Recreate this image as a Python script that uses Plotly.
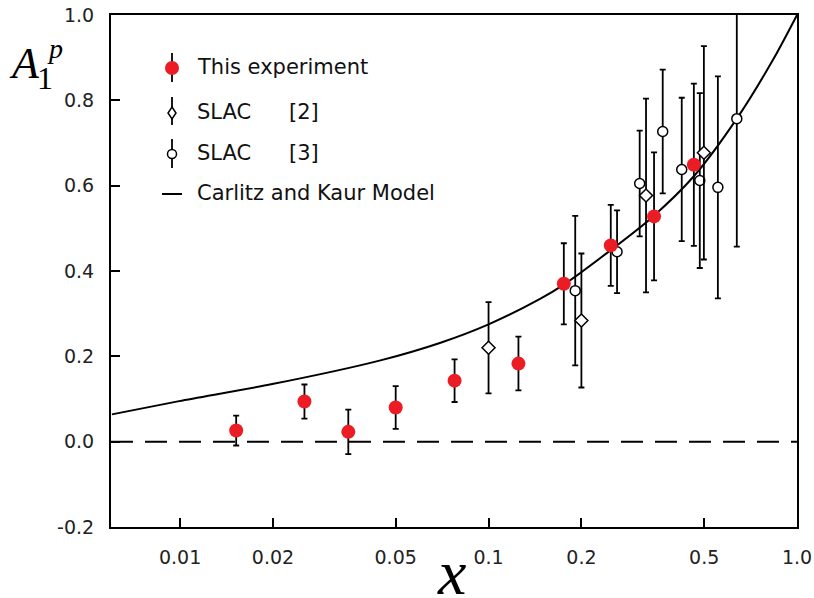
import plotly.graph_objects as go

# This experiment (red points)
x_exp = [0.0152, 0.0253, 0.0351, 0.050, 0.0776, 0.125, 0.1754, 0.249, 0.344, 0.463]
y_exp = [0.026, 0.094, 0.023, 0.080, 0.143, 0.183, 0.370, 0.460, 0.528, 0.649]
e_exp = [0.035, 0.040, 0.052, 0.050, 0.050, 0.063, 0.095, 0.095, 0.150, 0.190]

# SLAC [2] (open diamonds)
x_slac2 = [0.100, 0.200, 0.324, 0.499]
y_slac2 = [0.220, 0.284, 0.577, 0.677]
e_slac2 = [0.107, 0.157, 0.227, 0.250]

# SLAC [3] (open circles)
x_slac3 = [0.191, 0.261, 0.309, 0.367, 0.423, 0.484, 0.554, 0.638]
y_slac3 = [0.354, 0.445, 0.605, 0.727, 0.638, 0.612, 0.596, 0.757]
e_slac3 = [0.175, 0.097, 0.124, 0.145, 0.168, 0.205, 0.260, 0.300]

# Carlitz and Kaur model curve
x_model = [0.00601, 0.00993, 0.0199, 0.0443, 0.0699, 0.100, 0.1464,
           0.1754, 0.249, 0.338, 0.463, 0.638, 0.836, 1.0]
y_model = [0.064, 0.095, 0.135, 0.190, 0.232, 0.275, 0.334,
           0.368, 0.449, 0.525, 0.622, 0.757, 0.895, 1.0]

x_ticks = [0.01, 0.02, 0.05, 0.1, 0.2, 0.5, 1.0]
x_ticktext = ['0.01', '0.02', '0.05', '0.1', '0.2', '0.5', '1.0']
y_ticks = [-0.2, 0.0, 0.2, 0.4, 0.6, 0.8, 1.0]
y_ticktext = ['-0.2', '0.0', '0.2', '0.4', '0.6', '0.8', '1.0']

# plot area in pixels
L, R, T, B = 111, 797, 15, 527
W, H = 814, 598


def px(xp):
    return (xp - L) / (R - L)


def py(yp):
    return (B - yp) / (B - T)


RED = '#ec1c24'

data = [
    go.Scatter(x=[0.00597, 1.0], y=[0, 0], mode='lines',
               line=dict(color='black', width=2, dash='22px,12px'),
               showlegend=False, hoverinfo='skip'),
    go.Scatter(x=x_model, y=y_model, mode='lines', name='Carlitz and Kaur Model',
               line=dict(color='black', width=2, shape='spline', smoothing=0.8)),
    go.Scatter(x=x_slac3, y=y_slac3, mode='markers', name='SLAC [3]',
               error_y=dict(type='data', array=e_slac3, color='black', thickness=1.8, width=3),
               marker=dict(symbol='circle', size=10, color='white',
                           line=dict(color='black', width=1.5))),
    go.Scatter(x=x_slac2, y=y_slac2, mode='markers', name='SLAC [2]',
               error_y=dict(type='data', array=e_slac2, color='black', thickness=1.8, width=3),
               marker=dict(symbol='diamond', size=10, color='white',
                           line=dict(color='black', width=1.5))),
    go.Scatter(x=x_exp, y=y_exp, mode='markers', name='This experiment',
               error_y=dict(type='data', array=e_exp, color='black', thickness=1.8, width=3),
               marker=dict(symbol='circle', size=14, color=RED,
                           line=dict(color=RED, width=0))),
]

fig = go.Figure(data)

shapes = []
annotations = []

# hand-made legend
legend_font = dict(family='DejaVu Sans', size=21, color='#111111')
sx = 172
# this experiment
shapes.append(dict(type='line', xref='paper', yref='paper', x0=px(sx), x1=px(sx),
                   y0=py(53), y1=py(82), line=dict(color='black', width=1.8)))
shapes.append(dict(type='circle', xref='paper', yref='paper',
                   x0=px(sx - 7), x1=px(sx + 7), y0=py(68 + 7), y1=py(68 - 7),
                   fillcolor=RED, line=dict(color=RED, width=0)))
# SLAC [2]
shapes.append(dict(type='line', xref='paper', yref='paper', x0=px(sx), x1=px(sx),
                   y0=py(97), y1=py(125), line=dict(color='black', width=1.8)))
dpath = 'M {},{} L {},{} L {},{} L {},{} Z'.format(
    px(sx), py(107), px(sx + 4), py(113), px(sx), py(119), px(sx - 4), py(113))
shapes.append(dict(type='path', xref='paper', yref='paper', path=dpath,
                   fillcolor='white', line=dict(color='black', width=1.5)))
# SLAC [3]
shapes.append(dict(type='line', xref='paper', yref='paper', x0=px(sx), x1=px(sx),
                   y0=py(139), y1=py(168), line=dict(color='black', width=1.8)))
shapes.append(dict(type='circle', xref='paper', yref='paper',
                   x0=px(sx - 4.5), x1=px(sx + 4.5), y0=py(154 + 4.5), y1=py(154 - 4.5),
                   fillcolor='white', line=dict(color='black', width=1.5)))
# model
shapes.append(dict(type='line', xref='paper', yref='paper', x0=px(162), x1=px(182),
                   y0=py(194), y1=py(194), line=dict(color='black', width=2)))

for txt, xx, yy in [('This experiment', 195, 67), ('SLAC', 195, 112), ('[2]', 287, 112),
                    ('SLAC', 195, 153), ('[3]', 287, 153),
                    ('Carlitz and Kaur Model', 195, 193)]:
    annotations.append(dict(text=txt, x=px(xx), y=py(yy), xref='paper', yref='paper',
                            xanchor='left', yanchor='middle', showarrow=False,
                            font=legend_font))

# axis titles
serif = 'Liberation Serif'
annotations.append(dict(text='<i>A</i>', x=px(25), y=py(63), xref='paper', yref='paper',
                        xanchor='center', yanchor='middle', showarrow=False,
                        font=dict(family=serif, size=44, color='black')))
annotations.append(dict(text='1', x=px(45), y=py(78), xref='paper', yref='paper',
                        xanchor='center', yanchor='middle', showarrow=False,
                        font=dict(family=serif, size=32, color='black')))
annotations.append(dict(text='<i>p</i>', x=px(55), y=py(48), xref='paper', yref='paper',
                        xanchor='center', yanchor='middle', showarrow=False,
                        font=dict(family=serif, size=28, color='black')))
annotations.append(dict(text='<i>x</i>', x=px(451), y=py(572), xref='paper', yref='paper',
                        xanchor='center', yanchor='middle', showarrow=False,
                        font=dict(family=serif, size=64, color='black')))

tick_font = dict(family='DejaVu Sans', size=19, color='#222222')

fig.update_layout(width=W, height=H,
                  margin=dict(l=L, r=W - R, t=T, b=H - B, autoexpand=False),
                  plot_bgcolor='white', paper_bgcolor='white',
                  showlegend=False,
                  shapes=shapes, annotations=annotations,
                  font=tick_font)

fig.update_xaxes(type='log', range=[-2.224, 0.0], automargin=False,
                 tickvals=x_ticks, ticktext=x_ticktext, ticklabeloverflow='allow',
                 tickfont=tick_font,
                 ticks='inside', ticklen=9, tickwidth=1.5, tickcolor='black',
                 showline=True, linewidth=2, linecolor='black', mirror=True,
                 showgrid=False, zeroline=False, ticklabelstandoff=12)
fig.update_yaxes(range=[-0.2, 1.0], automargin=False,
                 tickvals=y_ticks, ticktext=y_ticktext, ticklabeloverflow='allow',
                 tickfont=tick_font,
                 ticks='inside', ticklen=9, tickwidth=1.5, tickcolor='black',
                 showline=True, linewidth=2, linecolor='black', mirror=True,
                 showgrid=False, zeroline=False, ticklabelstandoff=11)

# drop the default page margin so the figure sits at the window's corner
fig.write_html("out.html", config={'displayModeBar': False},
               post_script="document.body.style.margin='0px';document.body.style.overflow='hidden';")
